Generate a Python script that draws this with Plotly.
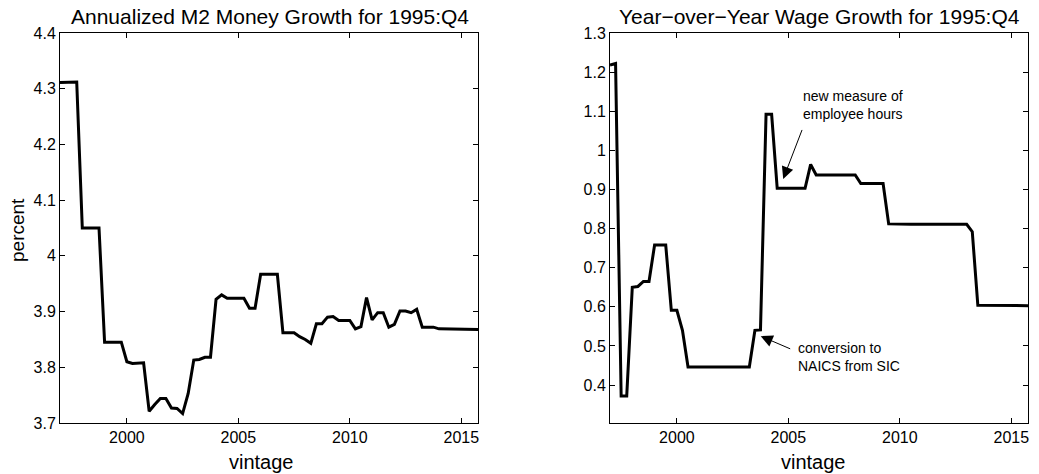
import plotly.graph_objects as go

# ---- data (vertices) ----
m2_vintage = [1997.0, 1997.75, 1998.0, 1998.75, 1999.0, 1999.75, 2000.0, 2000.25, 2000.75,
              2001.0, 2001.25, 2001.5, 2001.75, 2002.0, 2002.25, 2002.5, 2002.75, 2003.0,
              2003.25, 2003.5, 2003.75, 2004.0, 2004.25, 2004.5, 2005.25, 2005.5, 2005.75,
              2006.0, 2006.75, 2007.0, 2007.5, 2007.75, 2008.0, 2008.25, 2008.5, 2008.75,
              2009.0, 2009.25, 2009.5, 2010.0, 2010.25, 2010.5, 2010.75, 2011.0, 2011.25,
              2011.5, 2011.75, 2012.0, 2012.25, 2012.5, 2012.75, 2013.0, 2013.25, 2013.75,
              2014.0, 2015.5, 2015.75]
m2_growth = [4.311, 4.312, 4.050, 4.050, 3.845, 3.845, 3.810, 3.807, 3.808,
             3.721, 3.733, 3.744, 3.744, 3.727, 3.726, 3.717, 3.753, 3.813,
             3.814, 3.818, 3.818, 3.922, 3.930, 3.924, 3.924, 3.906, 3.906,
             3.967, 3.967, 3.862, 3.862, 3.855, 3.850, 3.843, 3.878, 3.878,
             3.890, 3.891, 3.884, 3.884, 3.869, 3.873, 3.925, 3.885, 3.898,
             3.898, 3.872, 3.877, 3.901, 3.901, 3.898, 3.904, 3.872, 3.872,
             3.869, 3.869, 3.868]

wage_vintage = [1997.0, 1997.25, 1997.5, 1997.75, 1998.0, 1998.25, 1998.5, 1998.75,
                1999.0, 1999.5, 1999.75, 2000.0, 2000.25, 2000.5, 2003.25, 2003.5,
                2003.75, 2004.0, 2004.25, 2004.5, 2005.75, 2006.0, 2006.25, 2008.0,
                2008.25, 2009.25, 2009.5, 2010.5, 2013.0, 2013.25, 2013.5, 2015.75]
wage_growth = [1.218, 1.222, 0.372, 0.372, 0.650, 0.652, 0.665, 0.665,
               0.758, 0.758, 0.591, 0.591, 0.540, 0.446, 0.446, 0.540,
               0.541, 1.092, 1.092, 0.903, 0.903, 0.964, 0.937, 0.937,
               0.915, 0.915, 0.812, 0.811, 0.811, 0.792, 0.604, 0.603]

x_ticks = [2000, 2005, 2010, 2015]
m2_yticks = [3.7, 3.8, 3.9, 4.0, 4.1, 4.2, 4.3, 4.4]
m2_ytext = ["3.7", "3.8", "3.9", "4", "4.1", "4.2", "4.3", "4.4"]
wage_yticks = [0.4, 0.5, 0.6, 0.7, 0.8, 0.9, 1.0, 1.1, 1.2, 1.3]
wage_ytext = ["0.4", "0.5", "0.6", "0.7", "0.8", "0.9", "1", "1.1", "1.2", "1.3"]

FONT = "Liberation Sans, Arial, sans-serif"
W, H = 1039, 474


def px(x):
    return x / W


def py(y):
    return 1 - y / H


fig = go.Figure()
fig.add_trace(go.Scatter(x=m2_vintage, y=m2_growth, mode="lines",
                         line=dict(color="black", width=3), xaxis="x", yaxis="y",
                         showlegend=False, hoverinfo="skip"))
fig.add_trace(go.Scatter(x=wage_vintage, y=wage_growth, mode="lines",
                         line=dict(color="black", width=3), xaxis="x2", yaxis="y2",
                         showlegend=False, hoverinfo="skip"))

axis_common = dict(showline=True, linecolor="black", linewidth=1, mirror="ticks",
                   ticks="inside", ticklen=5, tickcolor="black", tickwidth=1,
                   showgrid=False, zeroline=False, automargin=False,
                   tickfont=dict(family=FONT, size=16, color="black"))

fig.update_layout(
    width=W, height=H,
    margin=dict(l=0, r=0, t=0, b=0),
    paper_bgcolor="white", plot_bgcolor="white",
    font=dict(family=FONT, color="black"),
    xaxis=dict(domain=[px(60), px(478)], range=[1997.0, 2015.75],
               tickvals=x_ticks, anchor="y", **axis_common),
    yaxis=dict(domain=[py(423), py(33)], range=[3.7, 4.4],
               tickvals=m2_yticks, ticktext=m2_ytext, anchor="x", **axis_common),
    xaxis2=dict(domain=[px(610), px(1028)], range=[1997.0, 2015.75],
                tickvals=x_ticks, anchor="y2", **axis_common),
    yaxis2=dict(domain=[py(423), py(33)], range=[0.303, 1.3],
                tickvals=wage_yticks, ticktext=wage_ytext, anchor="x2", **axis_common),
)

ann = []
# titles
ann.append(dict(text="Annualized M2 Money Growth for 1995:Q4", x=px(270), y=py(16),
                xref="paper", yref="paper", showarrow=False, xanchor="center", yanchor="middle",
                font=dict(family=FONT, size=21, color="black")))
ann.append(dict(text="Year\u2212over\u2212Year Wage Growth for 1995:Q4", x=px(819), y=py(16),
                xref="paper", yref="paper", showarrow=False, xanchor="center", yanchor="middle",
                font=dict(family=FONT, size=21, color="black")))
# axis labels
for cx in (261, 813):
    ann.append(dict(text="vintage", x=px(cx), y=py(462), xref="paper", yref="paper",
                    showarrow=False, xanchor="center", yanchor="middle",
                    font=dict(family=FONT, size=20, color="black")))
ann.append(dict(text="percent", x=px(17), y=py(230), xref="paper", yref="paper",
                showarrow=False, textangle=-90, xanchor="center", yanchor="middle",
                font=dict(family=FONT, size=19, color="black")))
# annotations on the wage panel
ann.append(dict(text="new measure of<br>employee hours", x=px(801), y=py(105),
                xref="paper", yref="paper", showarrow=False, xanchor="left", yanchor="middle",
                align="left", font=dict(family=FONT, size=14, color="black")))
ann.append(dict(text="", x=2004.77, y=0.927, ax=2005.64, ay=1.056, xref="x2", yref="y2",
                axref="x2", ayref="y2", showarrow=True, arrowhead=2, arrowsize=2.4,
                arrowwidth=1, arrowcolor="black"))
ann.append(dict(text="conversion to<br>NAICS from SIC", x=px(796), y=py(357),
                xref="paper", yref="paper", showarrow=False, xanchor="left", yanchor="middle",
                align="left", font=dict(family=FONT, size=14, color="black")))
ann.append(dict(text="", x=2003.76, y=0.525, ax=2005.15, ay=0.491, xref="x2", yref="y2",
                axref="x2", ayref="y2", showarrow=True, arrowhead=2, arrowsize=2.4,
                arrowwidth=1, arrowcolor="black"))
fig.update_layout(annotations=ann)

fig.write_html("out.html", config={"displayModeBar": False},
               post_script="document.body.style.margin='0';document.body.style.overflow='hidden';")
